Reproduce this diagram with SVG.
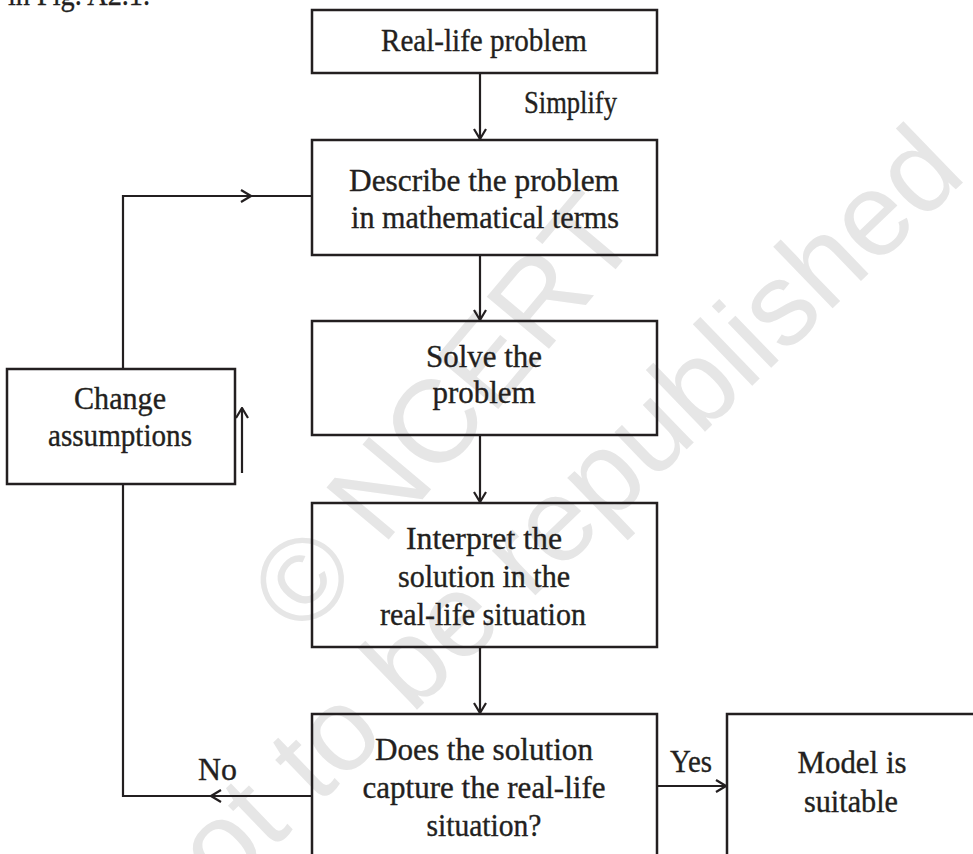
<svg xmlns="http://www.w3.org/2000/svg" width="973" height="854" viewBox="0 0 973 854">
<defs>
<style>
.bx{fill:none;stroke:#231f20;stroke-width:2.5}
.ln{fill:none;stroke:#231f20;stroke-width:2.2}
.t{font-family:"Liberation Serif","Times New Roman",serif;font-size:31px;fill:#231f20;stroke:#231f20;stroke-width:0.35;text-anchor:middle}
.s{text-anchor:start}
.wm{font-family:"Liberation Sans",Arial,sans-serif;font-size:118px;fill:#e6e6e6;text-anchor:middle}
</style>
<marker id="ah" viewBox="0 0 12 14" refX="11" refY="7" markerWidth="12" markerHeight="14" markerUnits="userSpaceOnUse" orient="auto">
<path d="M1,1 L11,7 L1,13" fill="none" stroke="#231f20" stroke-width="2.2"/>
</marker>
</defs>
<rect width="973" height="854" fill="#fff"/>
<g id="watermark">
<text class="wm" x="474" y="438" transform="rotate(-50 474 438)">© NCERT</text>
<text class="wm" x="572" y="560" transform="rotate(-44 572 560)">not to be republished</text>
</g>
<text class="t s" x="8" y="5" textLength="142" lengthAdjust="spacingAndGlyphs">in Fig. A2.1.</text>
<g id="connectors">
<path class="ln" d="M480,73 V139" marker-end="url(#ah)"/>
<path class="ln" d="M480,255 V320" marker-end="url(#ah)"/>
<path class="ln" d="M480,435 V502" marker-end="url(#ah)"/>
<path class="ln" d="M480,647 V713" marker-end="url(#ah)"/>
<path class="ln" d="M312,796 H211" marker-end="url(#ah)"/>
<path class="ln" d="M211,796 H123 V484"/>
<path class="ln" d="M123,369 V196 H251" marker-end="url(#ah)"/>
<path class="ln" d="M251,196 H312"/>
<path class="ln" d="M242,473 V408" marker-end="url(#ah)"/>
<path class="ln" d="M657,786 H726" marker-end="url(#ah)"/>
<text class="t s" x="524" y="113" textLength="93" lengthAdjust="spacingAndGlyphs">Simplify</text>
<text class="t s" x="198" y="780" textLength="39" lengthAdjust="spacingAndGlyphs">No</text>
<text class="t s" x="670" y="772" textLength="42" lengthAdjust="spacingAndGlyphs">Yes</text>
</g>
<g id="n-real">
<rect class="bx" x="312" y="10" width="345" height="63"/>
<text class="t" x="484" y="51" textLength="206" lengthAdjust="spacingAndGlyphs">Real-life problem</text>
</g>
<g id="n-describe">
<rect class="bx" x="312" y="140" width="345" height="115"/>
<text class="t" x="484" y="191" textLength="270" lengthAdjust="spacingAndGlyphs">Describe the problem</text>
<text class="t" x="485" y="228" textLength="268" lengthAdjust="spacingAndGlyphs">in mathematical terms</text>
</g>
<g id="n-solve">
<rect class="bx" x="312" y="321" width="345" height="114"/>
<text class="t" x="484" y="367" textLength="116" lengthAdjust="spacingAndGlyphs">Solve the</text>
<text class="t" x="484" y="403" textLength="103" lengthAdjust="spacingAndGlyphs">problem</text>
</g>
<g id="n-interpret">
<rect class="bx" x="312" y="503" width="345" height="144"/>
<text class="t" x="484" y="549" textLength="156" lengthAdjust="spacingAndGlyphs">Interpret the</text>
<text class="t" x="484" y="587" textLength="172" lengthAdjust="spacingAndGlyphs">solution in the</text>
<text class="t" x="483" y="625" textLength="206" lengthAdjust="spacingAndGlyphs">real-life situation</text>
</g>
<g id="n-does">
<rect class="bx" x="312" y="714" width="345" height="160"/>
<text class="t" x="484" y="760" textLength="218" lengthAdjust="spacingAndGlyphs">Does the solution</text>
<text class="t" x="484" y="798" textLength="243" lengthAdjust="spacingAndGlyphs">capture the real-life</text>
<text class="t" x="484" y="836" textLength="115" lengthAdjust="spacingAndGlyphs">situation?</text>
</g>
<g id="n-change">
<rect class="bx" x="7" y="369" width="228" height="115"/>
<text class="t" x="120" y="409" textLength="92" lengthAdjust="spacingAndGlyphs">Change</text>
<text class="t" x="120" y="446" textLength="144" lengthAdjust="spacingAndGlyphs">assumptions</text>
</g>
<g id="n-model">
<rect class="bx" x="727" y="714" width="300" height="160"/>
<text class="t" x="852" y="773" textLength="109" lengthAdjust="spacingAndGlyphs">Model is</text>
<text class="t" x="851" y="812" textLength="94" lengthAdjust="spacingAndGlyphs">suitable</text>
</g>
</svg>
